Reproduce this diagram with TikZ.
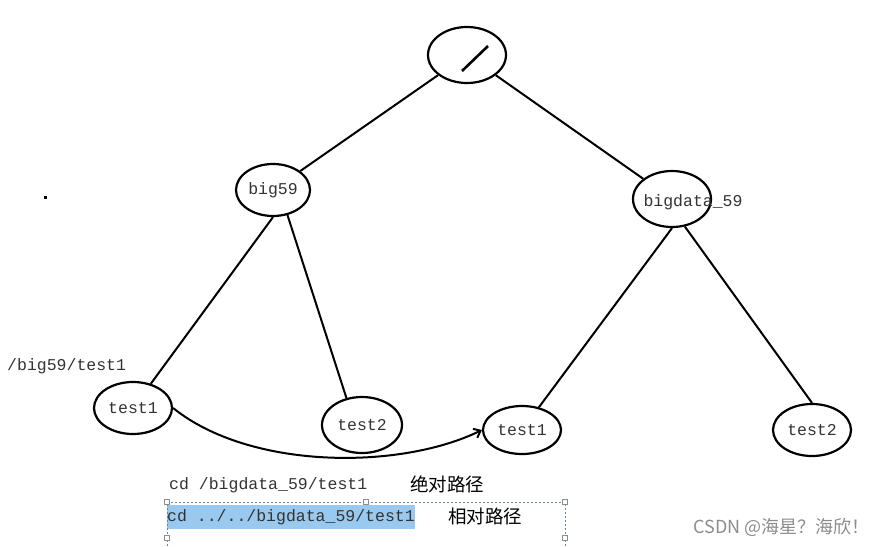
\documentclass[tikz,border=0pt]{standalone}
\usepackage{fontspec}
\setmonofont{Liberation Mono}
\newfontfamily\cjk{Noto Sans CJK SC}
\usetikzlibrary{arrows.meta, shapes.geometric}
\definecolor{txtGrey}{HTML}{333333}
\definecolor{selBlue}{HTML}{99C9EF}
\definecolor{frameBlue}{HTML}{5A86B4}
\definecolor{markGrey}{HTML}{8C8C8C}

\begin{document}
\begin{tikzpicture}[x=1pt, y=-1pt,
    dir/.style={ellipse, draw, line width=2.2pt, inner sep=0pt,
                minimum width=#1, minimum height=52pt,
                font=\fontsize{16.5}{18}\selectfont\ttfamily, text=txtGrey},
    edge/.style={line width=2pt},
    mono/.style={font=\fontsize{16.5}{18}\selectfont\ttfamily, text=txtGrey, inner sep=0pt},
    zh/.style={font=\fontsize{18.5}{20}\selectfont\cjk, inner sep=0pt},
    handle/.style={draw=markGrey, fill=white, line width=0.5pt, minimum size=5pt, inner sep=0pt},
  ]
    \useasboundingbox (0,0) rectangle (882,546);

    % directory tree
    \node[dir=78pt, minimum height=56pt] (root) at (467,55) {};
    \node[dir=74pt] (big) at (273,190) {big59};
    \node[dir=78pt, minimum height=56pt] (bigdata) at (672,199) {};
    \node[mono] (bigdatatext) at (693,202) {bigdata\_59};
    \node[dir=78pt] (ltest1) at (133,408) {test1};
    \node[dir=80pt, minimum height=56pt] (ltest2) at (362,425) {test2};
    \node[dir=78pt, minimum height=48pt] (rtest1) at (522,430) {test1};
    \node[dir=78pt] (rtest2) at (812,430) {test2};

    \draw[edge, line width=2.6pt] ([shift={(-5,16)}]root.center) -- ([shift={(21,-9)}]root.center);

    \draw[edge] (root) -- (big);
    \draw[edge] (root) -- (bigdata);
    \draw[edge] (big.south) -- (ltest1);
    \draw[edge] (big.-60) -- (ltest2.120);
    \draw[edge] (bigdata.south) -- (rtest1);
    \draw[edge] (bigdata.-65) -- (rtest2.north);

    % relative move
    \draw[edge, -{Straight Barb[length=6pt, width=10pt]}]
      (ltest1.east) .. controls (250,470) and (400,470) .. (rtest1.west);

    \node[mono, anchor=west] (abspath) at (7,366) {/big59/test1};
    \fill (43.5,195.5) rectangle (46.5,198.5);

    % commands
    \node[mono, anchor=west] (abscmd) at (169,485) {cd /bigdata\_59/test1};
    \node[zh, anchor=west] (abslabel) at (410,484) {绝对路径};
    \node[mono, anchor=west, fill=selBlue, minimum height=24pt] (relcmd) at (167,517)
      {cd ../../bigdata\_59/test1};
    \node[zh, anchor=west] (rellabel) at (448,516) {相对路径};

    \draw[frameBlue, line width=0.7pt, dash pattern=on 2pt off 2pt]
      (167,546) -- (167,502) -- (565,502) -- (565,546);
    \foreach \hx/\hy in {167/502, 366/502, 565/502, 167/538, 565/538}
      \node[handle] at (\hx,\hy) {};

    \node[font=\fontsize{18}{20}\selectfont\cjk, text=markGrey, anchor=east, inner sep=0pt]
      (mark) at (870,527) {CSDN @海星？海欣！};
  \end{tikzpicture}
\end{document}
